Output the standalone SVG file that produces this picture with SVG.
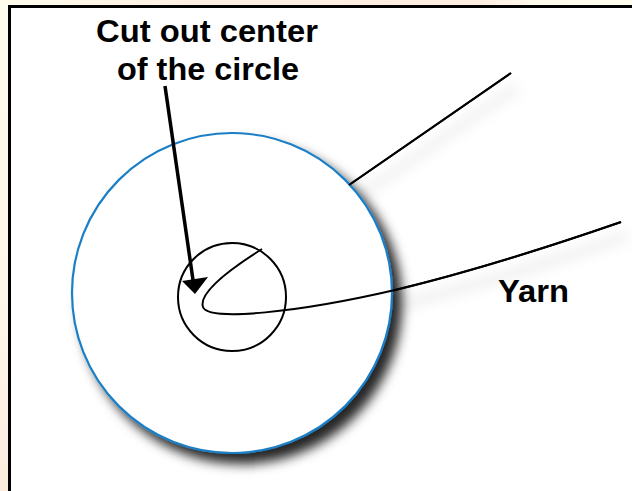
<svg xmlns="http://www.w3.org/2000/svg" width="632" height="491" viewBox="0 0 632 491">
<defs>
<linearGradient id="topbg" x1="0" y1="0" x2="1" y2="0">
<stop offset="0" stop-color="#fefcec"/>
<stop offset="0.3" stop-color="#fdf0e2"/>
<stop offset="0.75" stop-color="#fdece0"/>
<stop offset="0.85" stop-color="#fefbec"/>
<stop offset="1" stop-color="#fefcec"/>
</linearGradient>
<linearGradient id="leftbg" x1="0" y1="0" x2="0" y2="1">
<stop offset="0" stop-color="#fefcec"/>
<stop offset="0.6" stop-color="#fef8ea"/>
<stop offset="1" stop-color="#fcece0"/>
</linearGradient>
<filter id="shadow" x="-20%" y="-20%" width="150%" height="150%">
<feDropShadow dx="9" dy="10" stdDeviation="6" flood-color="#000" flood-opacity="0.85"/>
</filter>
<filter id="lshadow" x="-20%" y="-50%" width="150%" height="250%">
<feDropShadow dx="6" dy="14" stdDeviation="7" flood-color="#000" flood-opacity="0.3"/>
</filter>
<style>
.lbl{font-family:"Century Gothic","Liberation Sans",Arial,sans-serif;font-weight:bold;font-size:31px;fill:#000}
.yarn{fill:none;stroke:#000;stroke-width:2}
</style>
</defs>
<rect x="0" y="0" width="632" height="491" fill="url(#leftbg)"/>
<rect x="0" y="0" width="632" height="6" fill="url(#topbg)"/>
<rect x="9.5" y="6.5" width="640" height="500" fill="#fff" stroke="#000" stroke-width="3"/>

<g id="connectors">
<g filter="url(#lshadow)">
<line class="yarn" x1="349" y1="185" x2="511" y2="73"/>
<path class="yarn" d="M262,249 C235,266 198,292 203,307 C208,322 300,312 395,290 C470,272 540,250 621,222"/>
</g>
</g>

<g id="disc">
<circle cx="232" cy="293" r="160" fill="#fff" stroke="#1a7fc6" stroke-width="2.2" filter="url(#shadow)"/>
</g>

<g id="yarn-lines">
<line class="yarn" x1="349" y1="185" x2="511" y2="73"/>
<path class="yarn" d="M262,249 C235,266 198,292 203,307 C208,322 300,312 395,290 C470,272 540,250 621,222"/>
</g>

<g id="center">
<circle cx="232" cy="297" r="54" fill="none" stroke="#000" stroke-width="2"/>
</g>

<g id="arrow">
<line x1="165" y1="86" x2="193" y2="280" stroke="#000" stroke-width="3.5"/>
<path d="M182,281 L208,277 L195,294 z" fill="#000"/>
</g>

<g id="label-cut">
<text class="lbl" x="207" y="42" text-anchor="middle" textLength="222" lengthAdjust="spacingAndGlyphs">Cut out center</text>
<text class="lbl" x="208" y="80" text-anchor="middle" textLength="182" lengthAdjust="spacingAndGlyphs">of the circle</text>
</g>

<g id="label-yarn">
<text class="lbl" x="498" y="302" textLength="71" lengthAdjust="spacingAndGlyphs">Yarn</text>
</g>
</svg>
